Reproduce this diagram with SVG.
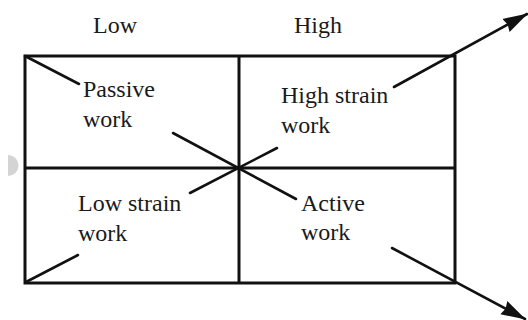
<svg xmlns="http://www.w3.org/2000/svg" width="528" height="320" viewBox="0 0 528 320">
<style>
.t{font-family:"Liberation Serif","Times New Roman",serif;font-size:24px;fill:#1a1a1a}
.g{stroke:#111;stroke-width:3;fill:none}
.c{stroke:#111;stroke-width:2.6;fill:none;stroke-linecap:round}
</style>
<defs>
<marker id="ah" markerUnits="userSpaceOnUse" markerWidth="26" markerHeight="18" viewBox="0 0 26 18" refX="24" refY="9" orient="auto">
<path d="M0,1.5 L25,9 L0,16.5 L2,9 Z" fill="#111"/>
</marker>
</defs>
<rect width="528" height="320" fill="#fff"/>
<path d="M8,155 A10,10 0 0 1 8,176 Z" fill="#d4d4d4"/>
<g id="header-low"><text class="t" x="93" y="33">Low</text></g>
<g id="header-high"><text class="t" x="294" y="33">High</text></g>
<g id="grid">
<rect class="g" x="25" y="56" width="430" height="227"/>
<line class="g" x1="239" y1="56" x2="239" y2="283"/>
<line class="g" x1="25" y1="168" x2="455" y2="168"/>
</g>
<g id="passive"><text class="t" x="83" y="97">Passive</text><text class="t" x="83" y="127">work</text></g>
<g id="high-strain"><text class="t" x="281" y="103">High strain</text><text class="t" x="281" y="133">work</text></g>
<g id="low-strain"><text class="t" x="78" y="211">Low strain</text><text class="t" x="78" y="241">work</text></g>
<g id="active"><text class="t" x="301" y="211">Active</text><text class="t" x="301" y="240">work</text></g>
<g id="connectors">
<line class="c" x1="25" y1="56" x2="79" y2="84"/>
<line class="c" x1="173" y1="133" x2="296" y2="199"/>
<line class="c" x1="392" y1="248" x2="525" y2="319" marker-end="url(#ah)"/>
<line class="c" x1="26" y1="282" x2="78" y2="255"/>
<line class="c" x1="190" y1="193" x2="277" y2="148"/>
<line class="c" x1="394" y1="87" x2="527" y2="14" marker-end="url(#ah)"/>
</g>
</svg>
